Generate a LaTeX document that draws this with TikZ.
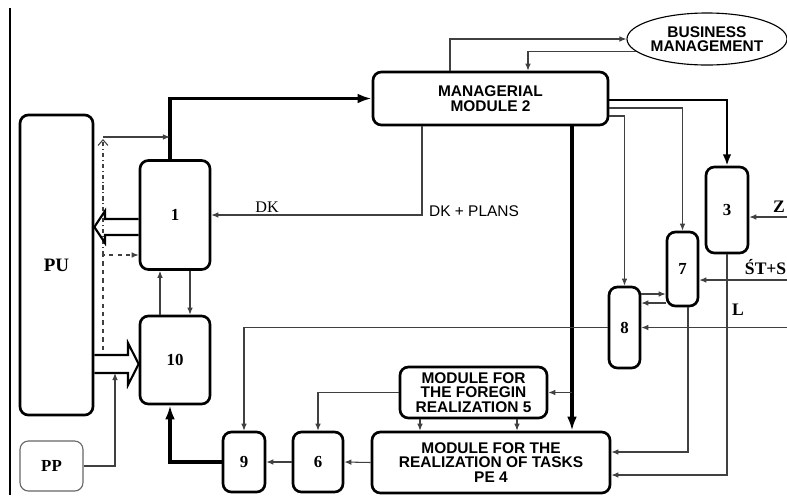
\documentclass[tikz,border=0pt]{standalone}
\usepackage{fontspec}
\setmainfont{Liberation Serif}
\setsansfont{Liberation Sans}
\usetikzlibrary{arrows.meta,shapes.geometric}

\tikzset{
  blk/.style={draw, line width=1.9pt, rounded corners=6pt, inner sep=0pt,
    font=\fontsize{12}{12}\selectfont\bfseries},
  modbox/.style={blk, align=center, font=\fontsize{11}{10.2}\selectfont\sffamily\bfseries},
  flow/.style={draw=black!75, line width=0.75pt, -{Latex[length=5pt,width=4pt]}},
  midflow/.style={line width=1.4pt, -{Latex[length=8pt,width=6pt]}},
  mainflow/.style={line width=2.2pt, -{Latex[length=10pt,width=7pt]}},
  hollow/.style={line width=1.5pt, line join=miter},
  lbl/.style={font=\fontsize{11.5}{11.5}\selectfont}
}

\begin{document}
\begin{tikzpicture}[x=0.025cm, y=-0.025cm]
		\useasboundingbox (0,0) rectangle (787,495);
		% page edge
		\draw[line width=1pt] (10,8) -- (10,495);
		
		% blocks
		\node[blk, minimum width=1.825cm, minimum height=7.5cm, font=\fontsize{13.5}{13.5}\selectfont\bfseries] (pu) at (56.5,265) {PU};
		\node[blk, draw=black!60, line width=0.8pt, minimum width=1.575cm, minimum height=1.25cm] (pp) at (51.5,466) {PP};
		\node[blk, minimum width=1.75cm, minimum height=2.725cm] (one) at (175,215) {1};
		\node[blk, minimum width=1.75cm, minimum height=2.2cm] (ten) at (175,360) {10};
		\node[modbox, minimum width=5.875cm, minimum height=1.325cm] (mgr) at (490.5,98.5) {MANAGERIAL\\MODULE 2};
		\node[ellipse, draw, line width=0.8pt, minimum width=4cm, minimum height=1.3cm, inner sep=0pt, align=center,
		  font=\fontsize{11}{10.2}\selectfont\sffamily\bfseries] (bm) at (707,39) {BUSINESS\\MANAGEMENT};
		\node[blk, minimum width=1.05cm, minimum height=2.15cm] (three) at (727,210) {3};
		\node[blk, minimum width=0.775cm, minimum height=1.85cm] (seven) at (682.5,269) {7};
		\node[blk, minimum width=0.775cm, minimum height=2.025cm] (eight) at (624.5,327.5) {8};
		\node[modbox, minimum width=3.675cm, minimum height=1.275cm] (mod5) at (473.5,392.5) {MODULE FOR\\THE FOREGIN\\REALIZATION 5};
		\node[modbox, minimum width=5.95cm, minimum height=1.525cm] (mod4) at (491,462.5) {MODULE FOR THE\\REALIZATION OF TASKS\\PE 4};
		\node[blk, minimum width=1.05cm, minimum height=1.5cm] (nine) at (244,462) {9};
		\node[blk, minimum width=1.25cm, minimum height=1.5cm] (six) at (318,462) {6};
		
		% 1 <-> PU, 10 and managerial module
		\draw[mainflow] (170,0 |- one.north) |- (mgr.west);
		\draw[flow] (103,137) -- (170,137);
		\draw[draw=black!75, line width=0.75pt, dash dot, -{Straight Barb[length=4pt,width=7pt]}] (103,255) -- (103,139);
		\draw[flow, dashed] (103,350) |- (one.west |- 0,255);
		\draw[hollow] (one.west |- 0,219) -- (105,219) -- (105,211) -- (pu.east |- 0,227)
		  -- (105,243) -- (105,235) -- (one.west |- 0,235);
		\draw[hollow] (pu.east |- 0,355) -- (128,355) -- (128,343) -- (ten.west |- 0,364)
		  -- (128,385) -- (128,373) -- (pu.east |- 0,373);
		\draw[flow] (160,0 |- ten.north) -- (160,0 |- one.south);
		\draw[flow] (190,0 |- one.south) -- (190,0 |- ten.north);
		\draw[flow] (pp.east) -| (115,373);
		
		% managerial module 2
		\draw[flow] (450,0 |- mgr.north) |- (bm.west);
		\draw[flow] (bm.190) -| (528,0 |- mgr.north);
		\draw[flow] (422,0 |- mgr.south) |- (one.east);
		\node[lbl] (dk) at (267,207) {DK};
		\node[lbl, font=\fontsize{11}{11}\selectfont\sffamily] (dkp) at (474,211) {DK + PLANS};
		\draw[mainflow] (572,0 |- mgr.south) -- (572,0 |- mod4.north);
		\draw[midflow] (mgr.east |- 0,100) -| (three.north);
		\draw[flow] (mgr.east |- 0,108) -| (seven.north);
		\draw[flow] (mgr.east |- 0,116) -| (eight.north);
		
		% inputs from the right
		\draw[flow] (787,217) -- (three.east |- 0,217);
		\node[lbl, font=\fontsize{12.5}{12.5}\selectfont\bfseries] (z) at (779,207) {Z};
		\draw[flow] (787,280) -- (seven.east |- 0,280);
		\node[lbl, font=\fontsize{12.5}{12.5}\selectfont\bfseries, anchor=west] (sts) at (740,267) {ŚT+S};
		\draw[flow] (787,0 |- eight.east) -- (eight.east);
		\draw[flow] (eight.east |- 0,294) -- (seven.west |- 0,294);
		\draw[flow] (seven.west |- 0,303) -- (eight.east |- 0,303);
		\draw[flow] (three.south) |- (mod4.east |- 0,475);
		\node[lbl, font=\fontsize{12.5}{12.5}\selectfont\bfseries] (l) at (738,310) {L};
		\draw[flow] (688,0 |- seven.south) |- (mod4.east |- 0,452);
		
		% lower chain
		\draw[flow] (eight.west) -| (nine.north);
		\draw[flow] (572,0 |- mod5.east) -- (mod5.east);
		\draw[flow] (mod5.west) -| (six.north);
		\draw[flow] (420,0 |- mod5.south) -- (420,0 |- mod4.north);
		\draw[flow] (517,0 |- mod5.south) -- (517,0 |- mod4.north);
		\draw[flow] (mod4.west) -- (six.east);
		\draw[flow] (six.west) -- (nine.east);
		\draw[mainflow] (nine.west) -| (170,0 |- ten.south);
		
	\end{tikzpicture}
\end{document}
